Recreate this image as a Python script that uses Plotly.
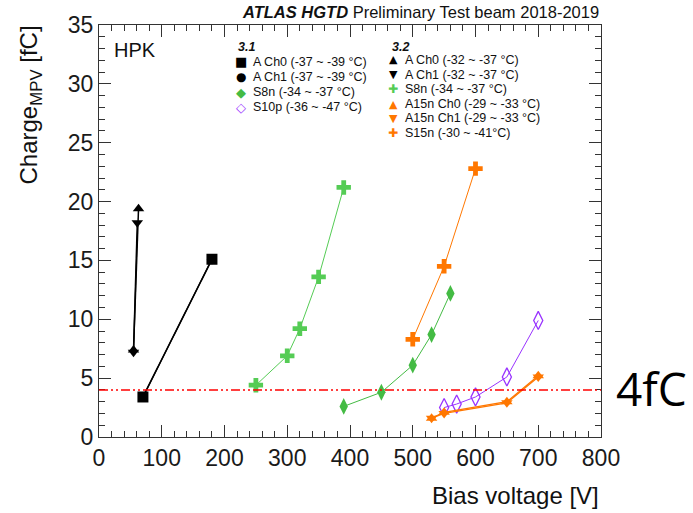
import plotly.graph_objects as go

# ---------------- data ----------------
# Test beam 3.1
a_ch0_31_v = [70, 180]
a_ch0_31_q = [3.4, 15.1]
a_ch1_31_v = [70, 180]
a_ch1_31_q = [3.4, 15.1]
s8n_31_v = [390, 450, 500, 530, 560]
s8n_31_q = [2.6, 3.8, 6.1, 8.7, 12.2]
s10p_31_v = [550, 570, 600, 650, 700]
s10p_31_q = [2.5, 2.8, 3.4, 5.1, 9.9]
# Test beam 3.2
a_ch0_32_v = [55, 63]
a_ch0_32_q = [7.4, 19.4]
a_ch1_32_v = [55, 61]
a_ch1_32_q = [7.2, 18.2]
s8n_32_v = [250, 300, 320, 350, 390]
s8n_32_q = [4.4, 6.9, 9.2, 13.6, 21.2]
a15n_ch0_32_v = [530, 550, 650, 700]
a15n_ch0_32_q = [1.6, 2.1, 3.0, 5.2]
a15n_ch1_32_v = [530, 550, 650, 700]
a15n_ch1_32_q = [1.6, 2.0, 2.9, 5.1]
s15n_32_v = [500, 550, 600]
s15n_32_q = [8.3, 14.5, 22.8]

THRESHOLD_FC = 4

legend_31 = ["A Ch0 (-37 ~ -39 °C)", "A Ch1 (-37 ~ -39 °C)",
             "S8n (-34 ~ -37 °C)", "S10p (-36 ~ -47 °C)"]
legend_32 = ["A Ch0 (-32 ~ -37 °C)", "A Ch1 (-32 ~ -37 °C)", "S8n (-34 ~ -37 °C)",
             "A15n Ch0 (-29 ~ -33 °C)", "A15n Ch1 (-29 ~ -33 °C)", "S15n (-30 ~ -41°C)"]

# ---------------- styling ----------------
BLACK = "#000000"
GREEN = "#55cc55"
GREEN_D = "#44bb44"
ORANGE = "#ff7700"
PURPLE = "#9933ff"
FONT = "Liberation Sans, Arial, sans-serif"

W, H = 693, 513
L, R, T, B = 99, 601, 25, 437


def px(x):
    return (x - L) / (R - L)


def py(y):
    return (B - y) / (B - T)


series = [
    (a_ch1_31_v, a_ch1_31_q, "circle", BLACK, 10, 1.5, False),
    (a_ch0_31_v, a_ch0_31_q, "square", BLACK, 11, 1.5, False),
    (a_ch0_32_v, a_ch0_32_q, "triangle-up", BLACK, 10, 1.5, False),
    (a_ch1_32_v, a_ch1_32_q, "triangle-down", BLACK, 10, 1.5, False),
    (s8n_31_v, s8n_31_q, "diamond-tall", GREEN_D, 12, 1.0, False),
    (s8n_32_v, s8n_32_q, "cross", GREEN, 12, 1.0, False),
    (s10p_31_v, s10p_31_q, "diamond-tall-open", PURPLE, 13, 1.0, True),
    (a15n_ch0_32_v, a15n_ch0_32_q, "triangle-up", ORANGE, 10, 1.3, False),
    (a15n_ch1_32_v, a15n_ch1_32_q, "triangle-down", ORANGE, 10, 1.3, False),
    (s15n_32_v, s15n_32_q, "cross", ORANGE, 12, 1.0, False),
]

fig = go.Figure()
for xs, ys, sym, col, size, lw, open_ in series:
    fig.add_trace(go.Scatter(
        x=xs, y=ys, mode="lines+markers",
        line=dict(color=col, width=lw),
        marker=dict(symbol=sym, size=size, color=col,
                    line=dict(color=col, width=1.3 if open_ else 0)),
        showlegend=False, cliponaxis=False))

# 4 fC threshold line
fig.add_shape(type="line", xref="x domain", yref="y", x0=0, x1=1,
              y0=THRESHOLD_FC, y1=THRESHOLD_FC,
              line=dict(color="#ff0000", width=1.5, dash="9px,3px,2px,3px,2px,3px"))

axis_common = dict(showgrid=False, zeroline=False, showline=True, linecolor="#333333",
                   linewidth=1.3, mirror="allticks", ticks="inside", ticklen=12,
                   tickwidth=1.2, tickcolor="#333333",
                   tickfont=dict(family=FONT, size=23, color="#1a1a1a"))

fig.update_xaxes(range=[0, 800], tick0=0, dtick=100,
                 minor=dict(dtick=20, ticks="inside", ticklen=6, tickcolor="#333333"),
                 **axis_common)
fig.update_yaxes(range=[0, 35], tick0=0, dtick=5,
                 minor=dict(dtick=1, ticks="inside", ticklen=6, tickcolor="#333333"),
                 **axis_common)

ann = []
# title
ann.append(dict(x=px(601), y=py(12), xref="paper", yref="paper", xanchor="right", yanchor="middle",
                text="<b><i>ATLAS HGTD</i></b> Preliminary Test beam 2018-2019",
                showarrow=False, font=dict(family=FONT, size=16.5, color="#111")))
# HPK
ann.append(dict(x=px(112), y=py(50), xref="paper", yref="paper", xanchor="left", yanchor="middle",
                text="HPK", showarrow=False, font=dict(family=FONT, size=20, color="#111")))
# axis titles
ann.append(dict(x=px(601), y=py(495), xref="paper", yref="paper", xanchor="right", yanchor="middle",
                text="Bias voltage [V]", showarrow=False,
                font=dict(family=FONT, size=24, color="#111")))
ann.append(dict(x=px(30), y=py(24), xref="paper", yref="paper", xanchor="center", yanchor="top",
                text="Charge<sub>MPV</sub> [fC]", textangle=-90, showarrow=False,
                font=dict(family=FONT, size=24, color="#111")))
# 4fC
ann.append(dict(x=px(651), y=py(388), xref="paper", yref="paper", xanchor="center", yanchor="middle",
                text="4fC", showarrow=False,
                font=dict(family="Open Sans, sans-serif", size=46, color="#000")))

# legend headers
for lx, label in [(236, "3.1"), (390, "3.2")]:
    ann.append(dict(x=px(lx), y=py(47), xref="paper", yref="paper", xanchor="left", yanchor="middle",
                    text="<b><i>" + label + "</i></b>", showarrow=False,
                    font=dict(family=FONT, size=12.5, color="#111")))

LEG_FONT = dict(family=FONT, size=12.5, color="#111")
glyphs_31 = [("■", BLACK, 13), ("●", BLACK, 12), ("◆", GREEN_D, 13), ("◇", PURPLE, 13)]
rows_31 = [62, 77, 92, 107]
for (g, c, s), lab, yy in zip(glyphs_31, legend_31, rows_31):
    ann.append(dict(x=px(241), y=py(yy), xref="paper", yref="paper", xanchor="center",
                    yanchor="middle", text=g, showarrow=False,
                    font=dict(family="DejaVu Sans", size=s, color=c)))
    ann.append(dict(x=px(251), y=py(yy), xref="paper", yref="paper", xanchor="left",
                    yanchor="middle", text=lab, showarrow=False, font=LEG_FONT))

glyphs_32 = [("▲", BLACK, 11), ("▼", BLACK, 11), ("✚", GREEN, 12),
             ("▲", ORANGE, 11), ("▼", ORANGE, 11), ("✚", ORANGE, 12)]
rows_32 = [60, 74.5, 89, 104, 118.5, 133]
for (g, c, s), lab, yy in zip(glyphs_32, legend_32, rows_32):
    ann.append(dict(x=px(393), y=py(yy), xref="paper", yref="paper", xanchor="center",
                    yanchor="middle", text=g, showarrow=False,
                    font=dict(family="DejaVu Sans", size=s, color=c)))
    ann.append(dict(x=px(403), y=py(yy), xref="paper", yref="paper", xanchor="left",
                    yanchor="middle", text=lab, showarrow=False, font=LEG_FONT))

fig.update_layout(
    width=W, height=H,
    margin=dict(l=L, r=W - R, t=T, b=H - B),
    paper_bgcolor="white", plot_bgcolor="white",
    annotations=ann, showlegend=False,
    font=dict(family=FONT),
)

fig.write_html("out.html")
